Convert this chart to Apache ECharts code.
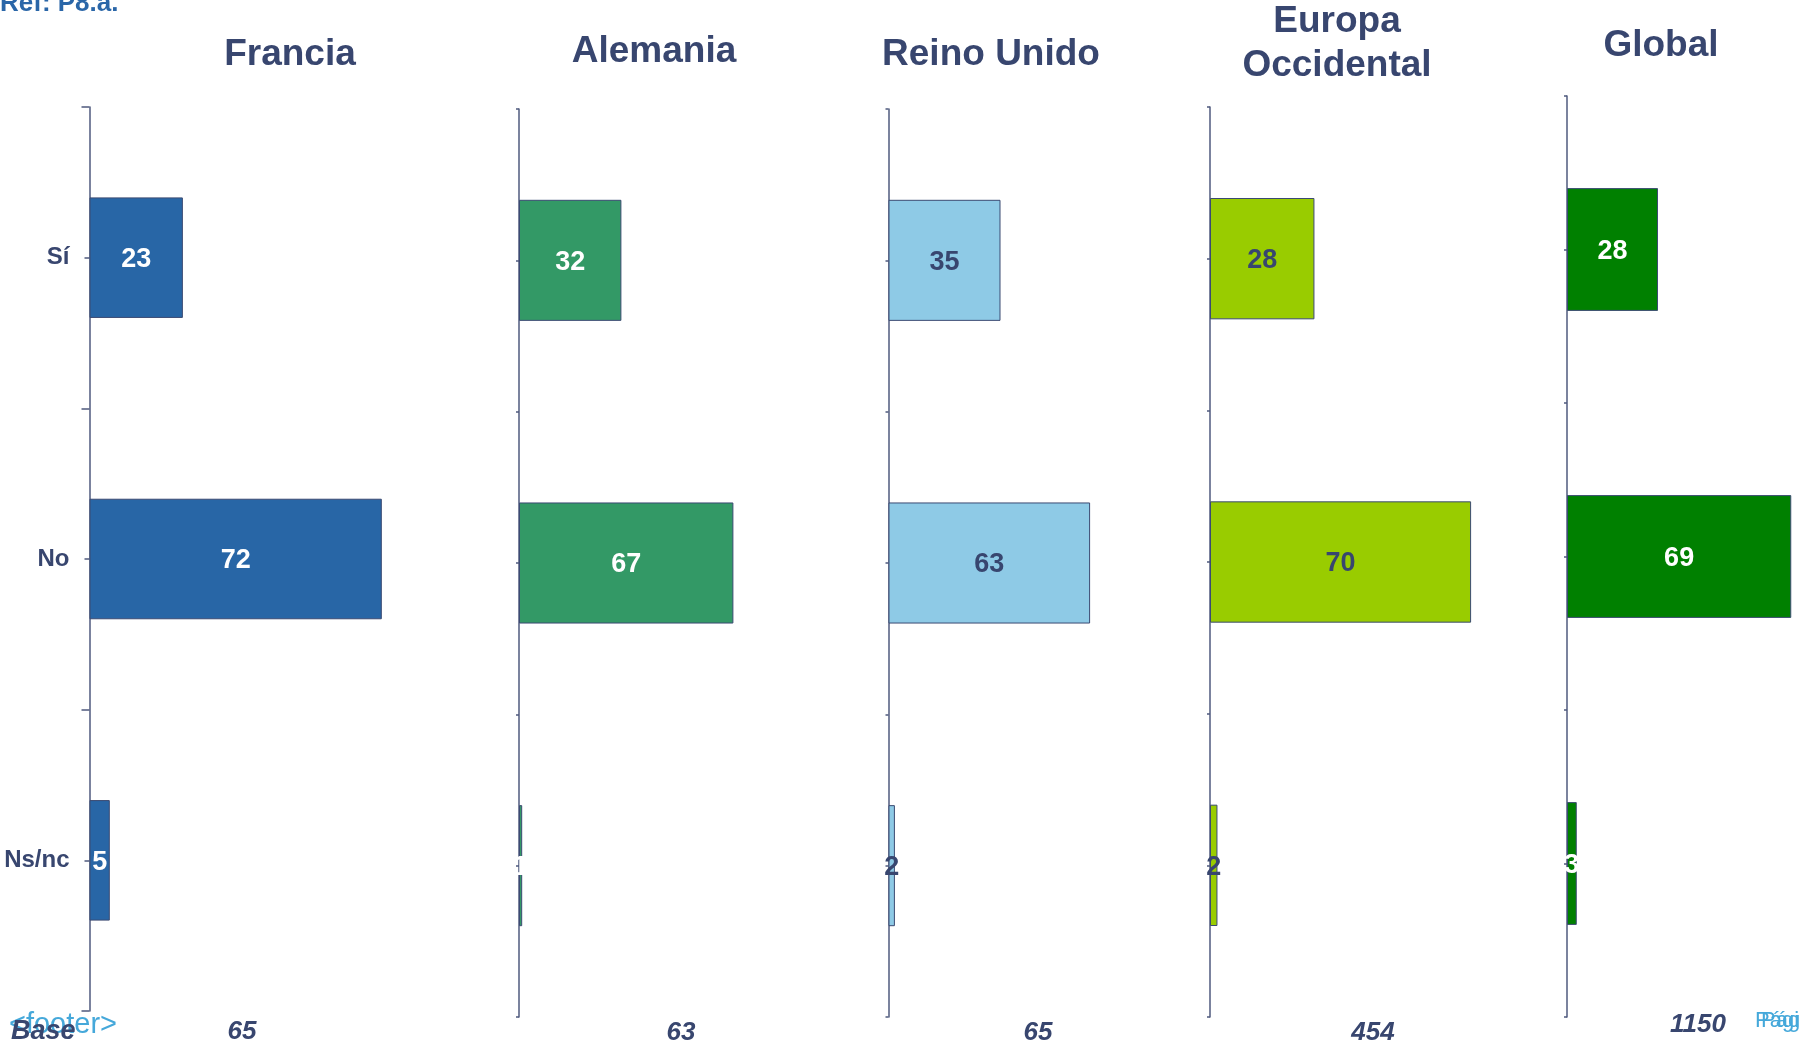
<!DOCTYPE html>
<html>
<head>
<meta charset="utf-8">
<script src="https://cdn.jsdelivr.net/npm/echarts@6/dist/echarts.min.js"></script>
<style>
html, body { margin: 0; padding: 0; background: #fff; }
</style>
</head>
<body>
<div id="chart" style="width:1800px;height:1048px;"></div>
<script type="text/javascript">
// datos
var categories = ['Sí', 'No', 'Ns/nc'];
var regions = ['Francia', 'Alemania', 'Reino Unido', 'Europa\nOccidental', 'Global'];
var francia = [23, 72, 5];
var alemania = [32, 67, 1];
var reinoUnido = [35, 63, 2];
var europaOcc = [28, 70, 2];
var global = [28, 69, 3];
var baseN = ['65', '63', '65', '454', '1150'];

var values = [francia, alemania, reinoUnido, europaOcc, global];
var barColors = ['#2866a6', '#339966', '#8ecae6', '#99cc00', '#008000'];
var labelColors = ['#ffffff', '#ffffff', '#38466f', '#38466f', '#ffffff'];

// layout de cada panel
var panels = [
    {left: 89.5, top: 107, bottom: 1011, ppu: 4.06, titleX: 290, titleY: 54.5, baseX: 242, baseY: 1032, tick: 8},
    {left: 519, top: 109, bottom: 1017, ppu: 3.2, titleX: 654, titleY: 52, baseX: 681, baseY: 1033, tick: 3},
    {left: 888.5, top: 109, bottom: 1017, ppu: 3.2, titleX: 991, titleY: 54.5, baseX: 1038, baseY: 1033, tick: 3},
    {left: 1210, top: 107, bottom: 1017, ppu: 3.73, titleX: 1337, titleY: 44, baseX: 1373, baseY: 1033, tick: 3},
    {left: 1567, top: 96, bottom: 1017, ppu: 3.25, titleX: 1661, titleY: 45.5, baseX: 1698, baseY: 1025, tick: 3}
];

var navy = '#38466f';
var axisColor = '#4f5a7e';
var font = 'Liberation Sans, Arial, sans-serif';
var xMax = 75;

var grids = [], xAxes = [], yAxes = [], series = [], texts = [];

panels.forEach(function (p, i) {
    grids.push({
        left: p.left, top: p.top,
        width: xMax * p.ppu, height: p.bottom - p.top,
        containLabel: false, outerBoundsMode: 'none'
    });
    xAxes.push({
        gridIndex: i, type: 'value', min: 0, max: xMax, show: false
    });
    // eje con marcas en los limites de categoria
    yAxes.push({
        gridIndex: i, type: 'category', data: categories, inverse: true, position: 'left',
        axisLine: {show: true, lineStyle: {color: axisColor, width: 1.5}},
        axisTick: {show: true, length: p.tick, lineStyle: {color: axisColor, width: 1.5}},
        axisLabel: {
            show: i === 0, margin: 20,
            color: navy, fontSize: 24, fontWeight: 'bold', fontFamily: font
        },
        splitLine: {show: false}
    });
    // marcas cortas en el centro de cada categoria
    yAxes.push({
        gridIndex: i, type: 'category', data: categories, inverse: true, position: 'left',
        axisLine: {show: false},
        axisTick: {show: true, alignWithLabel: true, length: i === 0 ? 5 : 3, lineStyle: {color: axisColor, width: 1.5}},
        axisLabel: {show: false},
        splitLine: {show: false}
    });
    series.push({
        type: 'bar',
        xAxisIndex: i,
        yAxisIndex: 2 * i,
        data: values[i],
        barWidth: '40%',
        itemStyle: {color: barColors[i], borderColor: '#3b4a72', borderWidth: 1},
        label: {
            show: true, position: 'inside', offset: [0, 2],
            color: labelColors[i], fontSize: 27, fontWeight: 'bold', fontFamily: font
        }
    });
    texts.push({
        type: 'text', x: p.titleX, y: p.titleY,
        style: {
            text: regions[i], align: 'center', verticalAlign: 'middle',
            fill: navy, font: 'bold 37px ' + font, lineHeight: 44
        }
    });
    texts.push({
        type: 'text', x: p.baseX, y: p.baseY,
        style: {
            text: baseN[i], align: 'center', verticalAlign: 'middle',
            fill: navy, font: 'italic bold 26px ' + font
        }
    });
});

texts.push({
    type: 'text', x: 0, y: 4,
    style: {text: 'Ref: P8.a.', align: 'left', verticalAlign: 'middle', fill: '#2a66a8', font: 'bold 26px ' + font}
});
texts.push({
    type: 'text', x: 9, y: 1025,
    style: {text: '<footer>', align: 'left', verticalAlign: 'middle', fill: '#45a8da', font: '29px ' + font}
});
texts.push({
    type: 'text', x: 11, y: 1032,
    style: {text: 'Base', align: 'left', verticalAlign: 'middle', fill: navy, font: 'italic bold 27px ' + font}
});
texts.push({
    type: 'text', x: 1755, y: 1021,
    style: {text: 'Página', align: 'left', verticalAlign: 'middle', fill: '#45a8da', font: '22px ' + font}
});
texts.push({
    type: 'text', x: 1761, y: 1021,
    style: {text: 'Página', align: 'left', verticalAlign: 'middle', fill: '#45a8da', font: '22px ' + font}
});

var myChart = echarts.init(document.getElementById('chart'));
var option = {
    backgroundColor: '#ffffff',
    animation: false,
    grid: grids,
    xAxis: xAxes,
    yAxis: yAxes,
    series: series,
    graphic: texts
};
myChart.setOption(option);
</script>
</body>
</html>
